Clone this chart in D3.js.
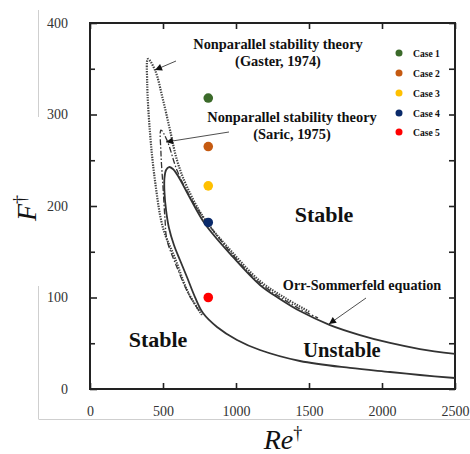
<!DOCTYPE html>
<html>
<head>
<meta charset="utf-8">
<script src="https://cdn.jsdelivr.net/npm/d3@7"></script>
<style>
  html, body { margin: 0; padding: 0; background: #fff; }
  svg { display: block; }
</style>
</head>
<body>
<svg id="chart" width="470" height="454"></svg>
<script>
// ---------------- data ----------------
const xTicks = [0, 500, 1000, 1500, 2000, 2500];
const yTicks = [0, 100, 200, 300, 400];
const yMinorTicks = [50, 150, 250, 350];

// Orr-Sommerfeld neutral curve [Re, F] (lower branch from right end -> nose -> upper branch)
const orrSommerfeld = [
  [2500, 12], [2260, 15.3], [2055, 18.6], [1781, 23], [1438, 30.6], [1164, 42.6],
  [1007, 53.6], [870, 67.8], [774, 83], [719, 100.5], [664, 122.4], [616, 141],
  [575, 157.4], [541, 176], [521, 195.6], [510, 215.3], [510, 230.6], [521, 239.3],
  [541, 242.6], [568, 240.4], [603, 232.8], [685, 208.7], [788, 180.3], [979, 144.3],
  [1164, 113.7], [1301, 98.4], [1438, 85.2], [1644, 69.9], [1849, 59], [2055, 50.3],
  [2260, 43.7], [2500, 38.3]
];
// Gaster (1974) nonparallel theory
const gaster = [
  [767, 81], [671, 106], [582, 143], [500, 176], [445, 228], [411, 280],
  [392, 334], [397, 360.7], [445, 348.6], [500, 316], [548, 283], [596, 250],
  [664, 221], [788, 185], [979, 148.6], [1164, 118], [1336, 99.5], [1507, 84]
];
// Saric (1975) nonparallel theory
const saric = [
  [745, 86], [678, 103], [589, 135.5], [527, 163], [514, 185], [500, 221],
  [486, 258], [486, 283], [527, 272], [596, 239], [685, 210], [774, 188],
  [979, 146.4], [1164, 115.8], [1438, 87.4], [1562, 77.6]
];

const caseNames = ["Case 1", "Case 2", "Case 3", "Case 4", "Case 5"];
const caseRe = [810, 810, 810, 810, 810];
const caseF = [318, 265, 222, 182, 100];
const caseColors = ["#3b6a2a", "#c55a11", "#ffc000", "#0a2a6a", "#ff0000"];

// ---------------- drawing ----------------
const SERIF = "'Liberation Serif', 'Times New Roman', serif";
const svg = d3.select("#chart");
const m = { left: 90, right: 455, top: 23, bottom: 389 };

const x = d3.scaleLinear().domain([0, 2500]).range([m.left, m.right]);
const y = d3.scaleLinear().domain([0, 400]).range([m.bottom, m.top]);

// faint frame lines (from source image)
svg.append("line").attr("x1", 38.5).attr("x2", 38.5).attr("y1", 10).attr("y2", 117)
  .attr("stroke", "#cfcfcf").attr("stroke-width", 1);
svg.append("line").attr("x1", 38.5).attr("x2", 38.5).attr("y1", 286).attr("y2", 419)
  .attr("stroke", "#cfcfcf").attr("stroke-width", 1);
svg.append("line").attr("x1", 38.5).attr("x2", 470).attr("y1", 419.5).attr("y2", 419.5)
  .attr("stroke", "#cfcfcf").attr("stroke-width", 1);

// axes
function styleAxis(g) {
  g.select(".domain").remove();
  g.selectAll(".tick line").attr("stroke", "#222").attr("stroke-width", 1.6);
  g.selectAll("text").style("font-family", SERIF).style("font-size", "14px").attr("fill", "#333");
}
svg.append("g").attr("transform", `translate(0,${m.bottom})`)
  .call(d3.axisBottom(x).tickValues(xTicks).tickSize(-6).tickPadding(17).tickFormat(d3.format("d")))
  .call(styleAxis);
svg.append("g").attr("transform", `translate(0,${m.top})`)
  .call(d3.axisTop(x).tickValues(xTicks).tickSize(-6).tickFormat(""))
  .call(styleAxis);
svg.append("g").attr("transform", `translate(${m.left},0)`)
  .call(d3.axisLeft(y).tickValues(yTicks).tickSize(-7).tickPadding(22).tickFormat(d3.format("d")))
  .call(styleAxis);
svg.append("g").attr("transform", `translate(${m.left},0)`)
  .call(d3.axisLeft(y).tickValues(yMinorTicks).tickSize(-5).tickFormat(""))
  .call(styleAxis);
svg.append("g").attr("transform", `translate(${m.right},0)`)
  .call(d3.axisRight(y).tickValues(yTicks.concat(yMinorTicks)).tickSize(-6).tickFormat(""))
  .call(styleAxis);

// plot box
svg.append("rect").attr("x", m.left).attr("y", m.top)
  .attr("width", m.right - m.left).attr("height", m.bottom - m.top)
  .attr("fill", "none").attr("stroke", "#222").attr("stroke-width", 2);

// clip
svg.append("clipPath").attr("id", "clip").append("rect")
  .attr("x", m.left).attr("y", m.top).attr("width", m.right - m.left).attr("height", m.bottom - m.top);

const line = d3.line().x(d => x(d[0])).y(d => y(d[1])).curve(d3.curveCatmullRom.alpha(0.5));
const plot = svg.append("g").attr("clip-path", "url(#clip)");

plot.append("path").datum(gaster).attr("d", line)
  .attr("fill", "none").attr("stroke", "#444").attr("stroke-width", 2.2)
  .attr("stroke-dasharray", "1.4,1.2");
plot.append("path").datum(saric).attr("d", line)
  .attr("fill", "none").attr("stroke", "#333").attr("stroke-width", 1.3)
  .attr("stroke-dasharray", "6,2,1.5,2");
plot.append("path").datum(orrSommerfeld).attr("d", line)
  .attr("fill", "none").attr("stroke", "#333").attr("stroke-width", 1.8);

// data points
plot.selectAll("circle.case").data(caseNames).join("circle").attr("class", "case")
  .attr("cx", (d, i) => x(caseRe[i])).attr("cy", (d, i) => y(caseF[i]))
  .attr("r", 4.8).attr("fill", (d, i) => caseColors[i]);

// arrows
svg.append("defs").append("marker").attr("id", "arr")
  .attr("viewBox", "0 0 10 10").attr("refX", 10).attr("refY", 5)
  .attr("markerWidth", 9).attr("markerHeight", 7).attr("markerUnits", "userSpaceOnUse")
  .attr("orient", "auto")
  .append("path").attr("d", "M0,0 L10,5 L0,10 Z").attr("fill", "#111");
const arrows = [
  [[176, 61], [155, 70]],
  [[229, 132], [166, 142]],
  [[366, 298], [329, 324]]
];
arrows.forEach(a => {
  svg.append("line").attr("x1", a[0][0]).attr("y1", a[0][1]).attr("x2", a[1][0]).attr("y2", a[1][1])
    .attr("stroke", "#222").attr("stroke-width", 0.8).attr("marker-end", "url(#arr)");
});

// annotations
function label(t, cx, by, size, weight) {
  svg.append("text").attr("x", cx).attr("y", by).attr("text-anchor", "middle")
    .style("font-family", SERIF).style("font-size", size + "px")
    .style("font-weight", weight || "bold").attr("fill", "#111").text(t);
}
label("Nonparallel stability theory", 278, 49, 14.4);
label("(Gaster, 1974)", 278, 66, 14.4);
label("Nonparallel stability theory", 292, 122, 14.4);
label("(Saric, 1975)", 292, 139, 14.4);
label("Orr-Sommerfeld equation", 362, 290, 14.2);
label("Stable", 324, 222, 22);
label("Stable", 158, 347, 22);
label("Unstable", 342, 357, 20.5);

// legend
const leg = svg.append("g");
const legY = [53, 73, 93, 113, 132];
caseNames.forEach((n, i) => {
  leg.append("circle").attr("cx", 399).attr("cy", legY[i]).attr("r", 3.5).attr("fill", caseColors[i]);
  leg.append("text").attr("x", 413).attr("y", legY[i] + 3.5)
    .style("font-family", SERIF).style("font-size", "9.6px").style("font-weight", "bold")
    .attr("fill", "#111").text(n);
});

// axis titles
const yt = svg.append("text").attr("transform", "translate(36,208) rotate(-90)")
  .attr("text-anchor", "middle").style("font-family", SERIF).style("font-size", "28px").attr("fill", "#111");
yt.append("tspan").style("font-style", "italic").text("F");
yt.append("tspan").style("font-size", "18px").attr("dy", -10).text("†");

const xt = svg.append("text").attr("x", 283).attr("y", 449)
  .attr("text-anchor", "middle").style("font-family", SERIF).style("font-size", "28px").attr("fill", "#111");
xt.append("tspan").style("font-style", "italic").text("Re");
xt.append("tspan").style("font-size", "18px").attr("dy", -10).text("†");
</script>
</body>
</html>
